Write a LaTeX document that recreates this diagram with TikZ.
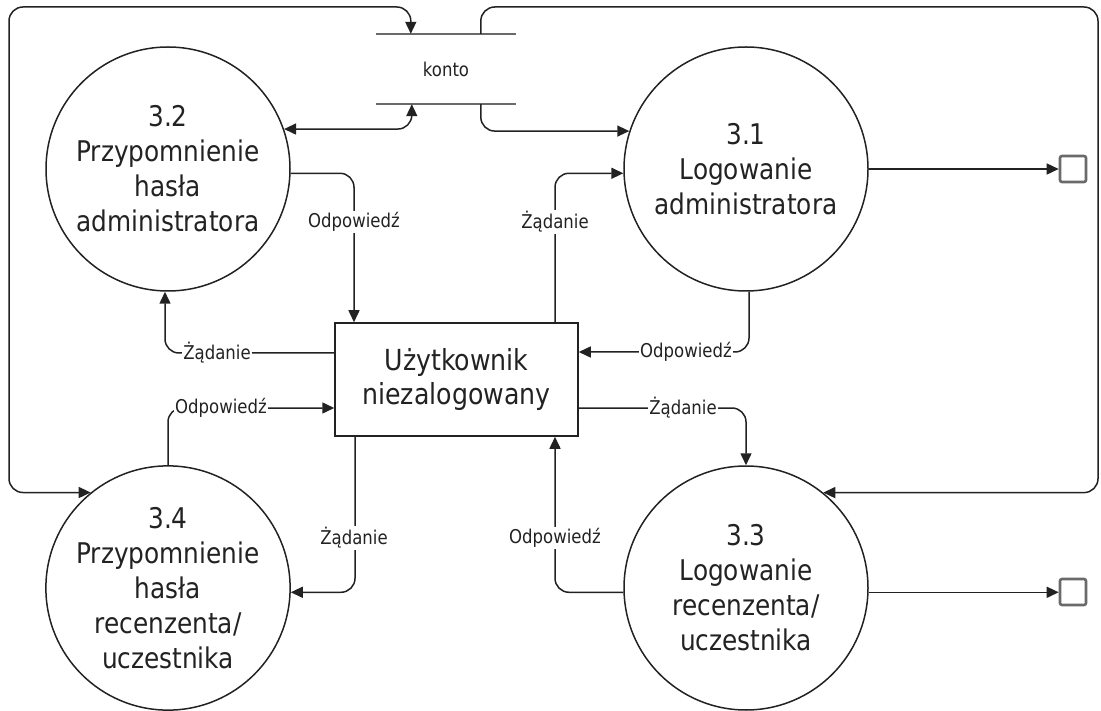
\documentclass[tikz,border=0pt]{standalone}
\usepackage{fontspec}
\setmainfont{DejaVu Sans}[FakeStretch=0.87]
\usetikzlibrary{arrows.meta}
\definecolor{ink}{HTML}{222222}
\definecolor{storegray}{HTML}{6A6A6A}
\begin{document}
\begin{tikzpicture}[x=1pt,y=-1pt,
  proc/.style={circle, draw=ink, line width=1.5pt, minimum size=244pt, inner sep=0pt, align=center, font=\fontsize{28.5}{35}\selectfont, text=ink},
  entity/.style={rectangle, draw=ink, line width=1.5pt, minimum width=243pt, minimum height=113pt, align=center, font=\fontsize{29}{33}\selectfont, text=ink},
  flow/.style={draw=ink, line width=1.5pt, rounded corners=14pt, -{Triangle[length=12pt,width=11pt]}},
  biflow/.style={flow, {Triangle[length=12pt,width=11pt]}-{Triangle[length=12pt,width=11pt]}},
  lab/.style={fill=white, inner sep=1pt, font=\fontsize{19}{19}\selectfont, text=ink},
  storeline/.style={draw=storegray, line width=2.4pt},
  sink/.style={rectangle, draw=storegray, line width=2.6pt, rounded corners=2pt, minimum size=26pt, inner sep=0pt},
  storetext/.style={minimum width=140pt, minimum height=70pt, inner sep=0pt, font=\fontsize{19}{19}\selectfont, text=ink}
]
\useasboundingbox (0,0) rectangle (1101,711);

% processes
\node[proc] (c32) at (168,169) {3.2\\Przypomnienie\\hasła\\administratora};
\node[proc] (c31) at (746,169) {3.1\\Logowanie\\administratora};
\node[proc] (c34) at (168,588) {3.4\\Przypomnienie\\hasła\\recenzenta/\\uczestnika};
\node[proc] (c33) at (746,588) {3.3\\Logowanie\\recenzenta/\\uczestnika};

% external entity
\node[entity] (usr) at (456.5,379.5) {Użytkownik\\niezalogowany};

% data store
\node[storetext] (konto) at (446,69) {konto};
\draw[storeline] (konto.north west) -- (konto.north east);
\draw[storeline] (konto.south west) -- (konto.south east);
\coordinate (kA) at ([xshift=35pt]konto.north west);
\coordinate (kB) at ([xshift=105pt]konto.north west);
\coordinate (kC) at ([xshift=36pt]konto.south west);
\coordinate (kD) at ([xshift=105pt]konto.south west);

% sinks
\node[sink] (sq1) at (1073,169) {};
\node[sink] (sq2) at (1073,592) {};

% store connections
\draw[biflow] (c34.129) -- (9,0 |- c34.129) -- (9,7) -- (kA |- 9,7) -- (kA);
\draw[biflow] (c32.19) -| (kC);
\draw[flow] (kD) |- (c31.162);
\draw[flow] (kB) -- (kB |- 0,7) -- (1098,7) -- (1098,0 |- c33.51) -- (c33.51);

% sinks
\draw[flow] (c31.east) -- (sq1.west);
\draw[flow] (c33.-2) -- (sq2.west |- c33.-2);

% flows with the user
\draw[flow] (c32.-2) -| (354,0 |- usr.north);
\draw[flow] (usr.west |- 0,353) -| (165,0 |- c32.south);
\draw[flow] (555,0 |- usr.north) |- (c31.182);
\draw[flow] (749,0 |- c31.south) |- (usr.east |- 0,352);
\draw[flow] (usr.east |- 0,408) -| (c33.north);
\draw[flow] (c34.north) |- (usr.west |- 0,408);
\draw[flow] (355,0 |- usr.south) |- (c34.-2);
\draw[flow] (c33.182) -| (555,0 |- usr.south);

% labels
\node[lab] (l1) at (354,222) {Odpowiedź};
\node[lab] (l2) at (217,353) {Żądanie};
\node[lab] (l3) at (555,222) {Żądanie};
\node[lab] (l4) at (686,352) {Odpowiedź};
\node[lab] (l5) at (683,408) {Żądanie};
\node[lab] (l6) at (221,408) {Odpowiedź};
\node[lab] (l7) at (354,538) {Żądanie};
\node[lab] (l8) at (555,538) {Odpowiedź};
\end{tikzpicture}
\end{document}
